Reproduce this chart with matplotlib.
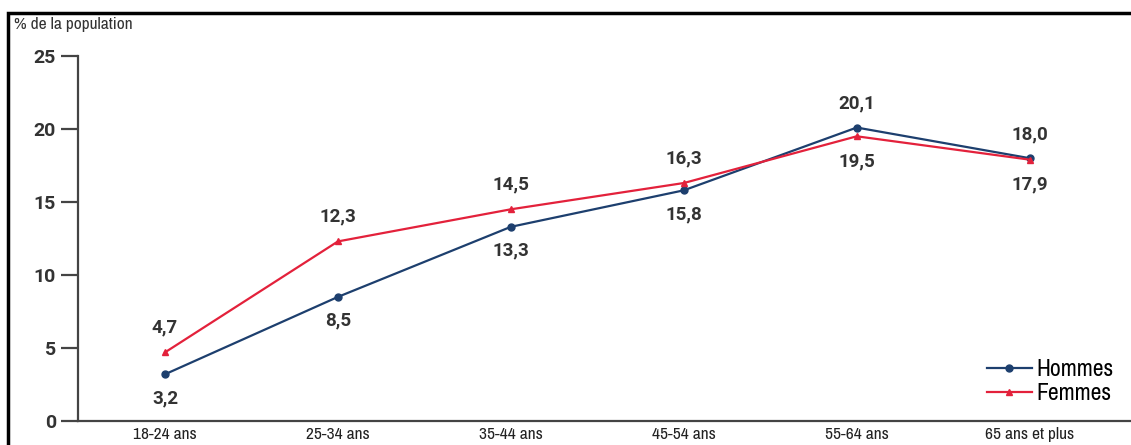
import numpy as np
import matplotlib.pyplot as plt
from matplotlib.patches import Rectangle

categories = ["18-24 ans", "25-34 ans", "35-44 ans", "45-54 ans", "55-64 ans", "65 ans et plus"]
hommes = [3.2, 8.5, 13.3, 15.8, 20.1, 18.0]
femmes = [4.7, 12.3, 14.5, 16.3, 19.5, 17.9]
# label above (+1) or below (-1) the point
hommes_pos = [-1, -1, -1, -1, 1, 1]
femmes_pos = [1, 1, 1, 1, -1, -1]

navy = "#1d3f6e"
red = "#e3213b"
grey = "#444444"
narrow = ["Archivo Narrow", "DejaVu Sans"]
bold = ["Roboto", "DejaVu Sans"]
plt.rcParams["font.family"] = narrow

fig = plt.figure(figsize=(11.31, 4.45), dpi=100)
ax = fig.add_axes([78 / 1131, 24 / 445, 1052 / 1131, 365 / 445])

x = np.arange(len(categories))
ax.plot(x, hommes, color=navy, lw=1.6, marker="o", ms=5, label="Hommes")
ax.plot(x, femmes, color=red, lw=1.6, marker="^", ms=4, label="Femmes")

def fmt(v):
    return ("%.1f" % v).replace(".", ",")

for xi, v, p in zip(x, hommes, hommes_pos):
    ax.annotate(fmt(v), (xi, v), xytext=(0, 24 * p), textcoords="offset pixels",
                ha="center", va="center", fontsize=13.5, fontweight="bold",
                family=bold, color="#333333")
for xi, v, p in zip(x, femmes, femmes_pos):
    ax.annotate(fmt(v), (xi, v), xytext=(0, 25 * p), textcoords="offset pixels",
                ha="center", va="center", fontsize=13.5, fontweight="bold",
                family=bold, color="#333333")

ax.set_xlim(-0.503, 5.58)
ax.set_ylim(0, 25)
ax.set_yticks([0, 5, 10, 15, 20, 25])
ax.set_xticks(x)
ax.set_xticklabels(categories)
ax.spines["top"].set_visible(False)
ax.spines["right"].set_visible(False)
for s in ["left", "bottom"]:
    ax.spines[s].set_color(grey)
    ax.spines[s].set_linewidth(1.6)
ax.tick_params(axis="y", direction="out", length=12, width=1.6, color=grey,
               labelsize=14, labelcolor="#333333", pad=4)
ax.tick_params(axis="x", length=0, labelsize=12.5, labelcolor="#222222", pad=4)
for t in ax.get_yticklabels():
    t.set_fontweight("bold")
    t.set_family(bold)

ax.legend(loc="lower right", bbox_to_anchor=(1.0, 0.0), frameon=False, fontsize=17,
          handlelength=1.9, handletextpad=0.2, labelspacing=0.15, borderaxespad=0.3)

fig.text(14 / 1131, 1 - 24 / 445, "% de la population", fontsize=12.5, color="#333333",
         ha="left", va="center")
fig.patches.append(Rectangle((8 / 1131, -0.1), 1.2, 1 - 13 / 445 + 0.1, transform=fig.transFigure,
                             fill=False, edgecolor="black", lw=2.5))

fig.savefig("out.png", dpi=100)
